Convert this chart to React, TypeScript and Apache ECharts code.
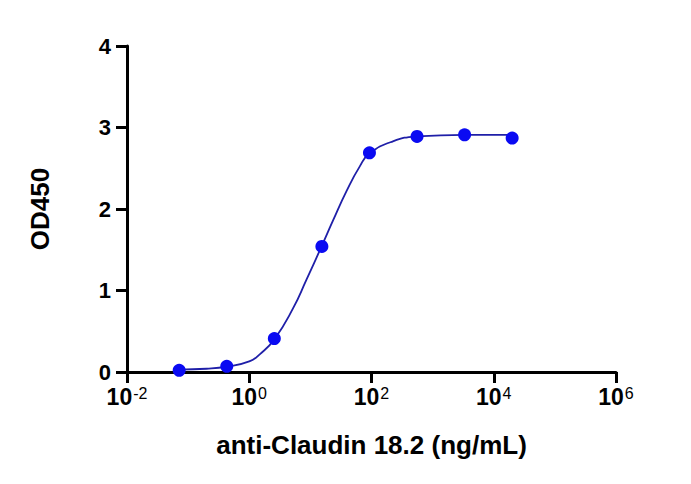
import React, { useEffect, useRef } from "react";
import * as echarts from "echarts";

// Measured points (concentration in ng/mL, OD450)
const concentrations = [0.0714, 0.4287, 2.572, 15.43, 92.59, 555.6, 3333, 20000];
const od450 = [0.02, 0.07, 0.41, 1.54, 2.69, 2.89, 2.91, 2.87];

const curveX = [0.0714, 0.2, 0.4287, 1, 1.5, 2.572, 5.2, 8.6, 15.43, 23.5, 39, 64, 92.59, 224, 555.6, 3333, 20000];
const curveY = [0.03, 0.04, 0.065, 0.13, 0.22, 0.40, 0.78, 1.13, 1.55, 1.86, 2.22, 2.52, 2.68, 2.83, 2.89, 2.91, 2.91];

// Axis ticks (exponents of 10) and y ticks
const xExponents = [-2, 0, 2, 4, 6];
const yTicks = [0, 1, 2, 3, 4];

const FONT = 'Arial, "Liberation Sans", Helvetica, sans-serif';

export default function App() {
  const ref = useRef<HTMLDivElement>(null);

  useEffect(() => {
    if (!ref.current) return;
    const chart = echarts.init(ref.current, undefined, { renderer: "svg" });
    const lg = (v: number) => Math.log10(v);
    chart.setOption({
      animation: false,
      backgroundColor: "#ffffff",
      grid: { left: 127, right: 75, top: 46, bottom: 112, containLabel: false },
      xAxis: {
        type: "value",
        min: xExponents[0],
        max: xExponents[xExponents.length - 1],
        interval: 2,
        splitLine: { show: false },
        axisLine: { show: true, onZero: false, lineStyle: { color: "#000", width: 3 } },
        axisTick: { show: true, length: 11, lineStyle: { color: "#000", width: 3 } },
        axisLabel: {
          margin: 13,
          formatter: (v: number) => `{b|10}{s|${v}}`,
          rich: {
            b: { fontSize: 23, fontWeight: "bold", color: "#000", fontFamily: FONT },
            s: { fontSize: 16, color: "#000", fontFamily: FONT, verticalAlign: "top", padding: [0, 0, 8, 1] },
          },
        },
        name: "anti-Claudin 18.2 (ng/mL)",
        nameLocation: "middle",
        nameGap: 60,
        nameTextStyle: { fontSize: 26, fontWeight: "bold", color: "#000", fontFamily: FONT },
      },
      yAxis: {
        type: "value",
        min: yTicks[0],
        max: yTicks[yTicks.length - 1],
        interval: 1,
        splitLine: { show: false },
        axisLine: { show: true, onZero: false, lineStyle: { color: "#000", width: 3 } },
        axisTick: { show: true, length: 11, lineStyle: { color: "#000", width: 3 } },
        axisLabel: { margin: 16, fontSize: 22, fontWeight: "bold", color: "#000", fontFamily: FONT },
        name: "OD450",
        nameLocation: "middle",
        nameGap: 74,
        nameTextStyle: { fontSize: 26, fontWeight: "bold", color: "#000", fontFamily: FONT },
      },
      series: [
        {
          type: "line",
          data: curveX.map((x, i) => [lg(x), curveY[i]]),
          smooth: 0.5,
          showSymbol: false,
          symbol: "none",
          lineStyle: { color: "#1f1fa8", width: 1.8 },
          z: 2,
        },
        {
          type: "scatter",
          data: concentrations.map((x, i) => [lg(x), od450[i]]),
          symbol: "circle",
          symbolSize: 13,
          itemStyle: { color: "#0a0af2", opacity: 1 },
          z: 3,
        },
      ],
    });
    return () => chart.dispose();
  }, []);

  return (
    <div
      ref={ref}
      style={{ position: "fixed", left: 0, top: 0, width: 691, height: 484, background: "#fff" }}
    />
  );
}
